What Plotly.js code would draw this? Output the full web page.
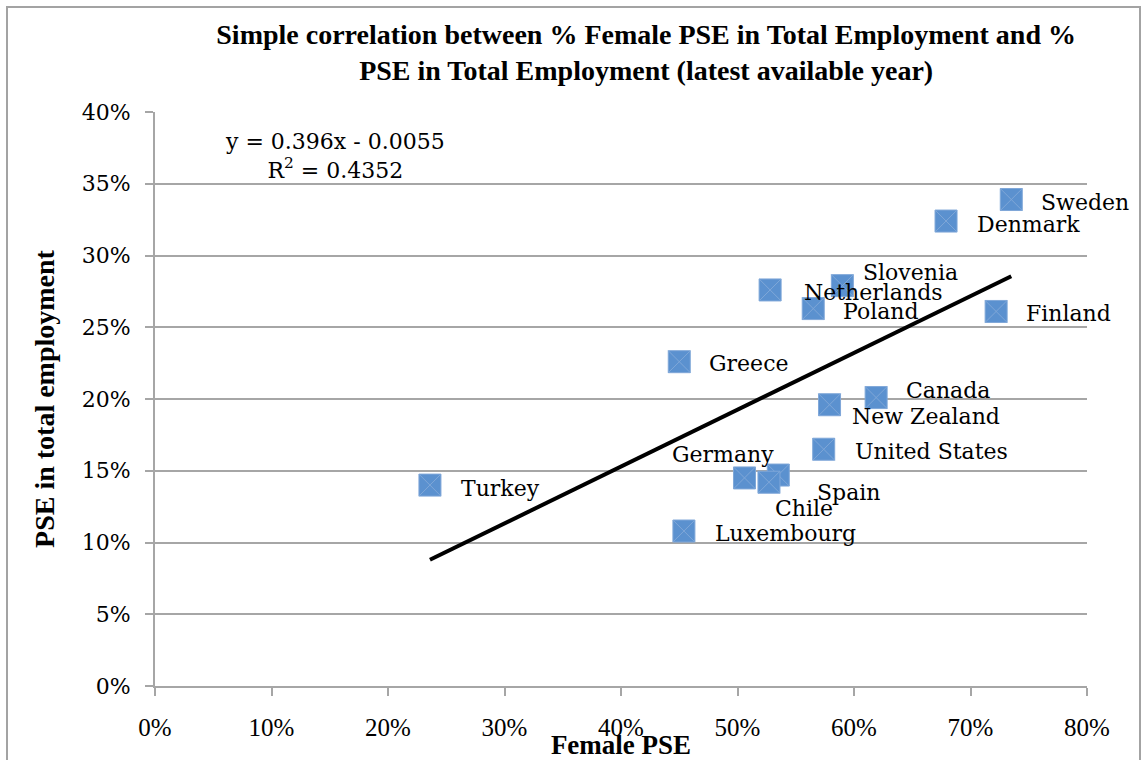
<!DOCTYPE html>
<html>
<head>
<meta charset="utf-8">
<script src="https://cdn.plot.ly/plotly-3.0.1.min.js"></script>
<style>
  html, body { margin: 0; padding: 0; background: #fff; overflow: hidden; }
  #chart { position: absolute; left: 0; top: 0; width: 1141px; height: 760px; }
  #frame { position: absolute; left: 6px; top: 6px; width: 1131px; height: 800px;
           border-left: 2px solid #a3a3a3; border-top: 2px solid #a3a3a3; border-right: 2px solid #a3a3a3;
           pointer-events: none; }
</style>
</head>
<body>
<div id="chart"></div>
<div id="frame"></div>
<script>
// ---- data ----
const countries = ["Sweden", "Denmark", "Slovenia", "Netherlands", "Poland", "Finland", "Greece",
                   "Canada", "New Zealand", "United States", "Germany", "Spain", "Chile", "Turkey", "Luxembourg"];
const femalePSE = [0.735, 0.679, 0.590, 0.528, 0.565, 0.722, 0.450,
                   0.619, 0.579, 0.574, 0.506, 0.535, 0.527, 0.236, 0.454];
const pseTotal  = [0.339, 0.324, 0.279, 0.276, 0.263, 0.261, 0.226,
                   0.201, 0.196, 0.165, 0.145, 0.147, 0.142, 0.140, 0.108];
// trend line coefficients as printed on the chart
const slope = 0.396;
const intercept = -0.0055;
const rSquared = 0.4352;
const xTickVals = [0, 0.1, 0.2, 0.3, 0.4, 0.5, 0.6, 0.7, 0.8];
const yTickVals = [0, 0.05, 0.1, 0.15, 0.2, 0.25, 0.3, 0.35, 0.4];

// ---- label placement (pixel offsets of each label, style only) ----
const labelOffset = {
  "Sweden": [28, 3], "Denmark": [29, 3], "Slovenia": [19, -13], "Netherlands": [32, 3],
  "Poland": [28, 3], "Finland": [28, 2], "Greece": [28, 2], "Canada": [28, -7],
  "New Zealand": [20, 12], "United States": [29, 2], "Germany": [-74, -23], "Spain": [37, 17],
  "Chile": [4, 26], "Turkey": [29, 3], "Luxembourg": [29, 2]
};

const serif = "DejaVu Serif, Liberation Serif, serif";
const serifBold = "Liberation Serif, DejaVu Serif, serif";

const xMin = Math.min(...femalePSE), xMax = Math.max(...femalePSE);

const traces = [
  {
    type: "scatter", mode: "markers", x: femalePSE, y: pseTotal, text: countries,
    marker: { symbol: "square-x", size: 22, color: "#5B91CF", line: { color: "#7FA7D8", width: 1 } },
    hoverinfo: "text", showlegend: false
  },
  {
    type: "scatter", mode: "lines", x: [xMin, xMax],
    y: [slope * xMin + intercept, slope * xMax + intercept],
    line: { color: "#000", width: 4 }, hoverinfo: "skip", showlegend: false
  }
];

const annotations = countries.map((c, i) => ({
  x: femalePSE[i], y: pseTotal[i], xref: "x", yref: "y", text: c, showarrow: false,
  xanchor: "left", yanchor: "middle", xshift: labelOffset[c][0], yshift: -labelOffset[c][1],
  font: { family: serif, size: 22, color: "#000" }
}));
annotations.push({
  x: 0.1545, y: 0.369, xref: "x", yref: "y", showarrow: false, xanchor: "center", yanchor: "middle",
  text: "y = " + slope + "x - " + Math.abs(intercept) + "<br>R<sup>2</sup> = " + rSquared,
  font: { family: serif, size: 22, color: "#000" }
});

const layout = {
  width: 1141, height: 760,
  margin: { l: 155, r: 54, t: 112, b: 74, pad: 0 },
  paper_bgcolor: "#fff", plot_bgcolor: "#fff",
  title: {
    text: "Simple correlation between % Female PSE in Total Employment and %<br>PSE in Total Employment (latest available year)",
    x: 0.527, xref: "paper", xanchor: "center", y: 0.942, yanchor: "middle",
    font: { family: serifBold, size: 28, color: "#000", weight: "bold" }
  },
  xaxis: {
    range: [0, 0.8], tickvals: xTickVals, tickformat: ".0%", showgrid: false, zeroline: false,
    showline: true, linecolor: "#a6a6a6", linewidth: 2, ticks: "outside", ticklen: 8,
    tickcolor: "#a6a6a6", tickwidth: 2, ticklabelstandoff: 10,
    tickfont: { family: serifBold, size: 25, color: "#000" },
    title: { text: "Female PSE", standoff: 0, font: { family: serifBold, size: 27, color: "#000", weight: "bold" } },
    automargin: false, fixedrange: true
  },
  yaxis: {
    range: [0, 0.4], tickvals: yTickVals, tickformat: ".0%", showgrid: true, gridcolor: "#a6a6a6", gridwidth: 2,
    zeroline: false, showline: true, linecolor: "#a6a6a6", linewidth: 2, ticks: "outside", ticklen: 8,
    tickcolor: "#a6a6a6", tickwidth: 2, ticklabelstandoff: 10,
    tickfont: { family: serif, size: 22, color: "#000" },
    title: { text: "PSE in total employment", standoff: 19, font: { family: serifBold, size: 28, color: "#000", weight: "bold" } },
    automargin: false, fixedrange: true
  },
  annotations: annotations,
  showlegend: false
};

Plotly.newPlot("chart", traces, layout, { displayModeBar: false, staticPlot: true });
</script>
</body>
</html>
